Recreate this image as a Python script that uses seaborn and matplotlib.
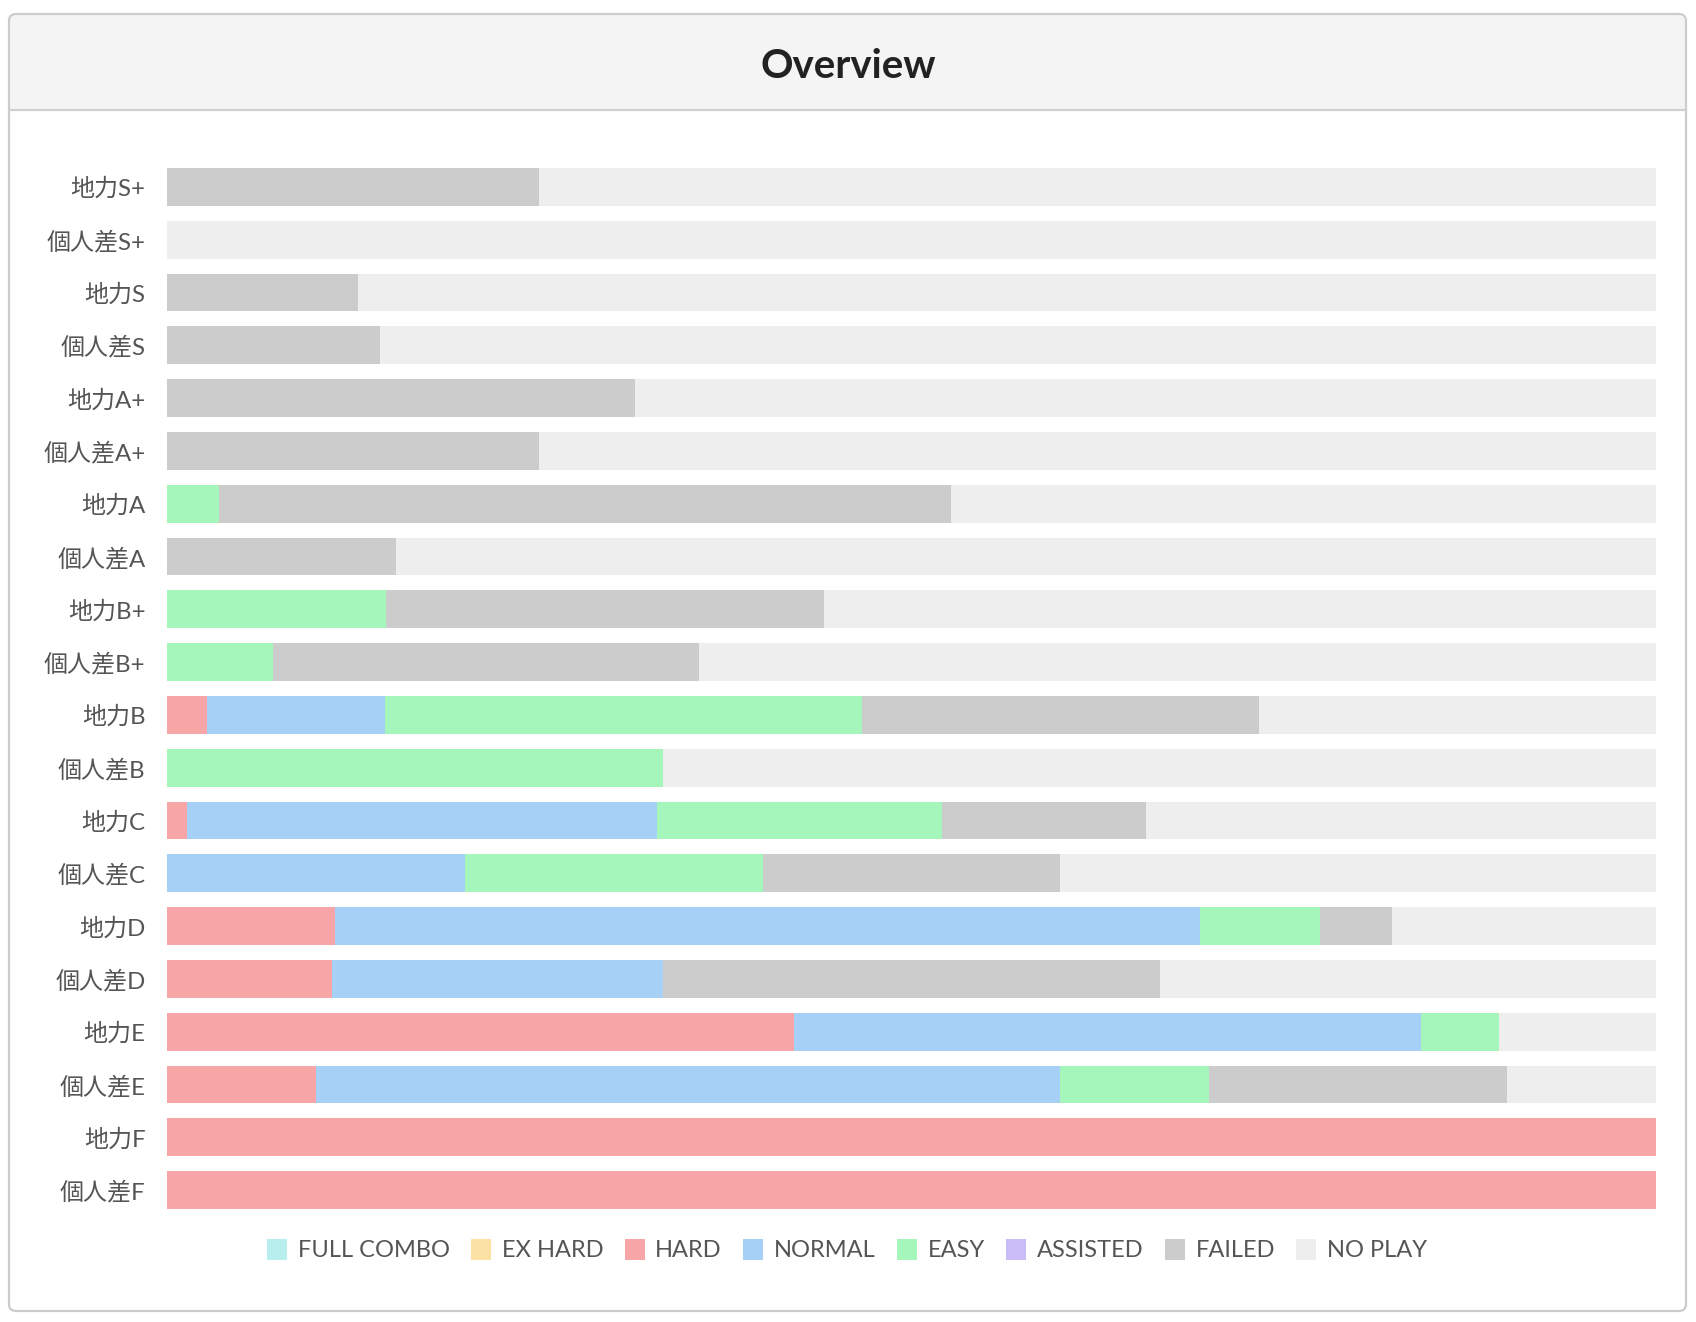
import matplotlib
matplotlib.use("Agg")
import matplotlib.pyplot as plt
from matplotlib.patches import FancyBboxPatch, Rectangle, Patch
import pandas as pd
import seaborn as sns

# 行ラベル（上から）
labels = ["地力S+", "個人差S+", "地力S", "個人差S", "地力A+", "個人差A+", "地力A", "個人差A",
          "地力B+", "個人差B+", "地力B", "個人差B", "地力C", "個人差C", "地力D", "個人差D",
          "地力E", "個人差E", "地力F", "個人差F"]

# ランプごとの曲数
full_combo = [0, 0, 0, 0, 0, 0, 0, 0, 0, 0, 0, 0, 0, 0, 0, 0, 0, 0, 0, 0]
ex_hard    = [0, 0, 0, 0, 0, 0, 0, 0, 0, 0, 0, 0, 0, 0, 0, 0, 0, 0, 0, 0]
hard       = [0, 0, 0, 0, 0, 0, 0, 0, 0, 0, 2, 0, 1, 0, 7, 1, 8, 1, 5, 3]
normal     = [0, 0, 0, 0, 0, 0, 0, 0, 0, 0, 9, 0, 23, 1, 36, 2, 8, 5, 0, 0]
easy       = [0, 0, 0, 0, 0, 0, 2, 0, 5, 1, 24, 1, 14, 1, 5, 0, 1, 1, 0, 0]
assisted   = [0, 0, 0, 0, 0, 0, 0, 0, 0, 0, 0, 0, 0, 0, 0, 0, 0, 0, 0, 0]
failed     = [1, 0, 9, 1, 11, 2, 28, 2, 10, 4, 20, 0, 10, 1, 3, 3, 0, 2, 0, 0]
no_play    = [3, 2, 61, 6, 24, 6, 27, 11, 19, 9, 20, 2, 25, 2, 11, 3, 2, 1, 0, 0]

lamp_names = ["FULL COMBO", "EX HARD", "HARD", "NORMAL", "EASY", "ASSISTED", "FAILED", "NO PLAY"]
lamp_colors = ["#b9eeee", "#fbe1a3", "#f8a5a8", "#a6d0f6", "#a4f6bb", "#cbbdf8", "#cccccc", "#eeeeee"]

df = pd.DataFrame({
    "FULL COMBO": full_combo, "EX HARD": ex_hard, "HARD": hard, "NORMAL": normal,
    "EASY": easy, "ASSISTED": assisted, "FAILED": failed, "NO PLAY": no_play,
}, index=labels)
pct = df.div(df.sum(axis=1), axis=0) * 100
cum = pct.cumsum(axis=1)
cum["label"] = labels

W, H = 1696, 1322
fig = plt.figure(figsize=(W / 100, H / 100), dpi=100)
fig.patch.set_facecolor("white")

# カード枠（ピクセル座標）
bg = fig.add_axes([0, 0, 1, 1], zorder=0)
bg.set_xlim(0, W)
bg.set_ylim(H, 0)
bg.axis("off")
bg.add_patch(FancyBboxPatch((9, 14), 1677, 1297, boxstyle="round,pad=0,rounding_size=7",
                            facecolor="white", edgecolor="none", zorder=1))
bg.add_patch(FancyBboxPatch((9, 14), 1677, 130, boxstyle="round,pad=0,rounding_size=7",
                            facecolor="#f4f4f4", edgecolor="none", zorder=2))
bg.add_patch(Rectangle((9, 110), 1677, 1190, facecolor="white", edgecolor="none", zorder=3))
bg.plot([9, 1686], [110, 110], color="#cfcfcf", lw=1.6, zorder=4)
bg.add_patch(FancyBboxPatch((9, 14), 1677, 1297, boxstyle="round,pad=0,rounding_size=7",
                            facecolor="none", edgecolor="#cccccc", lw=1.6, zorder=5))

# 棒グラフ（累積値を右から順に重ねる）
ax = fig.add_axes([167 / W, 1 - 1216.5 / H, (1656 - 167) / W, (1216.5 - 160.5) / H], zorder=2)
ax.set_facecolor("none")
for name, color in reversed(list(zip(lamp_names, lamp_colors))):
    sns.barplot(data=cum, x=name, y="label", orient="h", color=color, saturation=1,
                width=0.716, linewidth=0, ax=ax)

ax.set_xlim(0, 100)
ax.set_ylim(19.5, -0.5)
ax.set_xlabel("")
ax.set_ylabel("")
ax.set_xticks([])
for s in ax.spines.values():
    s.set_visible(False)
ax.tick_params(axis="y", length=0, pad=15.5, labelsize=17.3, labelcolor="#555555")
for t in ax.get_yticklabels():
    t.set_fontfamily(["Lato", "Noto Sans CJK JP"])

fig.text(0.5, 1 - 66 / H, "Overview", ha="center", va="center", fontsize=29,
         fontweight="bold", color="#222222", family=["Lato", "DejaVu Sans"])

handles = [Patch(facecolor=c, edgecolor="none", label=n) for n, c in zip(lamp_names, lamp_colors)]
leg = fig.legend(handles=handles, loc="center", bbox_to_anchor=(0.4994, 1 - 1250 / H), ncol=8,
                 frameon=False, handlelength=0.85, handleheight=1.0, handletextpad=0.45,
                 columnspacing=0.9, prop={"family": "Lato", "size": 17})
for t in leg.get_texts():
    t.set_color("#555555")

fig.savefig("out.png", dpi=100)
